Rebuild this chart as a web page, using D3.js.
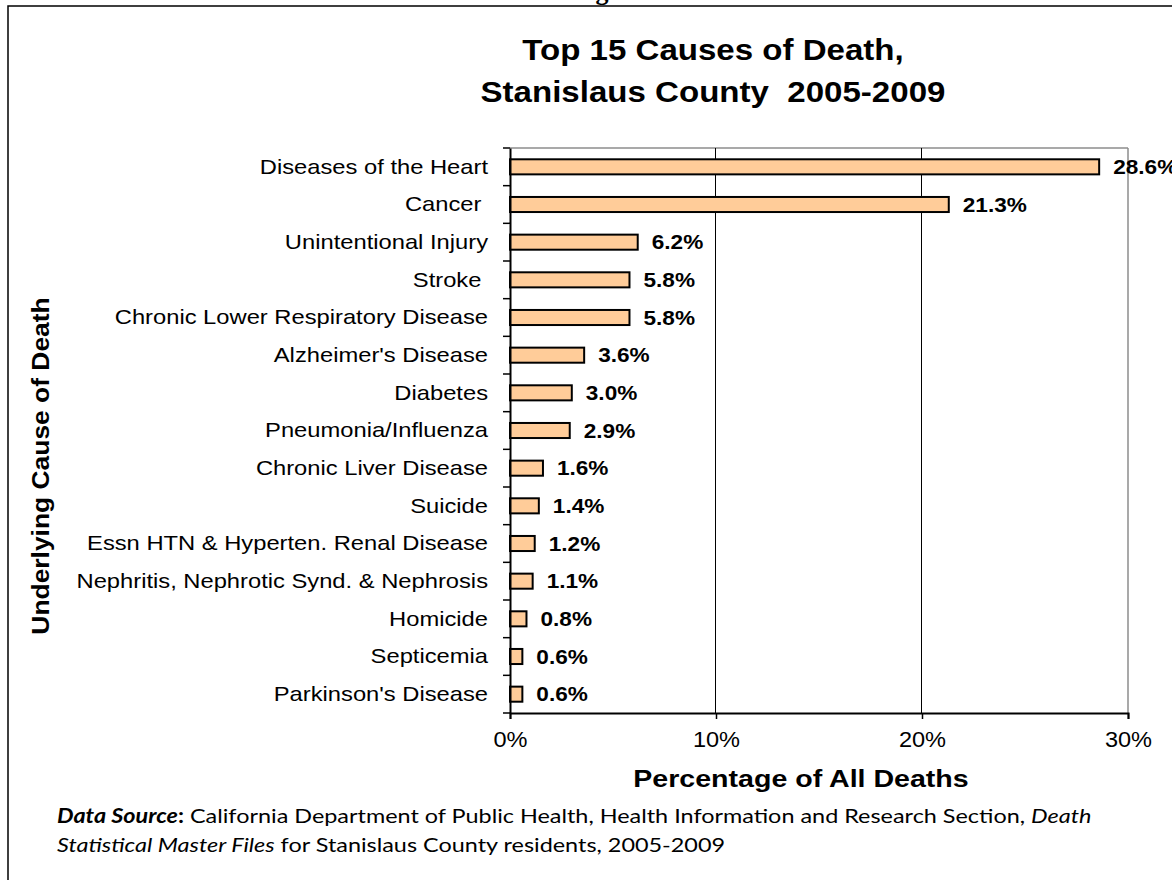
<!DOCTYPE html>
<html>
<head>
<meta charset="utf-8">
<script src="https://cdn.jsdelivr.net/npm/d3@7"></script>
<style>
  html, body { margin: 0; padding: 0; background: #fff; overflow: hidden; }
  svg { display: block; }
  text { white-space: pre; }
</style>
</head>
<body>
<svg id="chart" width="1172" height="880"></svg>
<script>
const categories = [
  "Diseases of the Heart",
  "Cancer ",
  "Unintentional Injury",
  "Stroke ",
  "Chronic Lower Respiratory Disease",
  "Alzheimer's Disease",
  "Diabetes",
  "Pneumonia/Influenza",
  "Chronic Liver Disease",
  "Suicide",
  "Essn HTN & Hyperten. Renal Disease",
  "Nephritis, Nephrotic Synd. & Nephrosis",
  "Homicide",
  "Septicemia",
  "Parkinson's Disease"
];
const values = [28.6, 21.3, 6.2, 5.8, 5.8, 3.6, 3.0, 2.9, 1.6, 1.4, 1.2, 1.1, 0.8, 0.6, 0.6];
const xTicks = [0, 10, 20, 30];
const titleLines = ["Top 15 Causes of Death,", "Stanislaus County  2005-2009"];
const xTitle = "Percentage of All Deaths";
const yTitle = "Underlying Cause of Death";

const svg = d3.select("#chart");
const plot = { left: 510, right: 1128, top: 148, bottom: 713 };
const SANS = "'Liberation Sans', Arial, sans-serif";

// horizontal stretch helper (reference text is rendered wider than normal)
function stretch(sel, k) {
  sel.each(function () {
    const w = this.getComputedTextLength();
    d3.select(this).attr("textLength", w * k).attr("lengthAdjust", "spacingAndGlyphs");
  });
}

// outer frame (extends beyond view on right and bottom)
svg.append("rect").attr("x", 8).attr("y", 6).attr("width", 1300).attr("height", 1000)
  .attr("fill", "none").attr("stroke", "#000").attr("stroke-width", 1.5);

// cut-off heading letter above frame (as in the reference)
svg.append("text").attr("x", 602).attr("y", 0).attr("text-anchor", "middle")
  .attr("font-family", "'Liberation Serif', serif").attr("font-weight", "bold").attr("font-size", 26)
  .text("g");

const x = d3.scaleLinear().domain([0, 30]).range([plot.left, plot.right]);
const y = d3.scaleBand().domain(categories).range([plot.top, plot.bottom]).paddingInner(0.6).paddingOuter(0.3);
const yb = d3.scaleBand().domain(categories).range([plot.top, plot.bottom]);

// plot area border (grey top & right)
svg.append("line").attr("x1", plot.left).attr("x2", plot.right).attr("y1", plot.top).attr("y2", plot.top)
  .attr("stroke", "#8c8c8c").attr("stroke-width", 1.5);
svg.append("line").attr("x1", plot.right).attr("x2", plot.right).attr("y1", plot.top).attr("y2", plot.bottom)
  .attr("stroke", "#8c8c8c").attr("stroke-width", 1.5);

// gridlines
svg.append("g").selectAll("line").data(xTicks.filter(t => t > 0 && t < 30)).join("line")
  .attr("x1", d => Math.round(x(d)) - 0.5).attr("x2", d => Math.round(x(d)) - 0.5)
  .attr("y1", plot.top).attr("y2", plot.bottom)
  .attr("stroke", "#000").attr("stroke-width", 1);

// bars
svg.append("g").selectAll("rect").data(values).join("rect")
  .attr("x", x(0))
  .attr("y", (d, i) => y(categories[i]))
  .attr("width", d => x(d) - x(0))
  .attr("height", y.bandwidth())
  .attr("fill", "#ffcc99").attr("stroke", "#000").attr("stroke-width", 2);

// value labels
const vl = svg.append("g").selectAll("text").data(values).join("text")
  .attr("x", d => x(d) + 14)
  .attr("y", (d, i) => y(categories[i]) + y.bandwidth() / 2)
  .attr("dy", "0.36em")
  .attr("font-family", SANS).attr("font-weight", "bold").attr("font-size", 20)
  .text(d => d.toFixed(1) + "%");
stretch(vl, 1.13);

// y axis
const yAxis = d3.axisLeft(yb).tickSize(0).tickPadding(22);
const ga = svg.append("g").attr("transform", `translate(${plot.left},0)`).call(yAxis);
ga.select(".domain").attr("stroke", "#000").attr("stroke-width", 2);
ga.selectAll(".tick text").attr("font-family", SANS).attr("font-size", 21).attr("fill", "#000");
stretch(ga.selectAll(".tick text"), 1.13);
// band boundary ticks
const bounds = categories.map(c => yb(c)).concat([plot.bottom]);
svg.append("g").selectAll("line").data(bounds).join("line")
  .attr("x1", plot.left - 7).attr("x2", plot.left).attr("y1", d => d).attr("y2", d => d)
  .attr("stroke", "#000").attr("stroke-width", 1.5);

// x axis
const xAxis = d3.axisBottom(x).tickValues(xTicks).tickFormat(d => d + "%").tickSize(6).tickPadding(12);
const gx = svg.append("g").attr("transform", `translate(0,${plot.bottom})`).call(xAxis);
gx.select(".domain").attr("stroke", "#000").attr("stroke-width", 2);
gx.selectAll(".tick line").attr("stroke", "#000").attr("stroke-width", 1.5);
gx.selectAll(".tick text").attr("font-family", SANS).attr("font-size", 22).attr("fill", "#000");
stretch(gx.selectAll(".tick text"), 1.07);

// titles
const tl = svg.append("g").selectAll("text").data(titleLines).join("text")
  .attr("x", 713).attr("y", (d, i) => 60 + i * 42).attr("text-anchor", "middle")
  .attr("font-family", SANS).attr("font-weight", "bold").attr("font-size", 29)
  .text(d => d);
stretch(tl, 1.14);

const xt = svg.append("text").attr("x", 801).attr("y", 787).attr("text-anchor", "middle")
  .attr("font-family", SANS).attr("font-weight", "bold").attr("font-size", 24)
  .text(xTitle);
stretch(xt, 1.19);

const yt = svg.append("text").attr("transform", "translate(49,466) rotate(-90)").attr("text-anchor", "middle")
  .attr("font-family", SANS).attr("font-weight", "bold").attr("font-size", 24)
  .text(yTitle);
stretch(yt, 1.1);

// footnote
const FN = "Lato, 'Open Sans', sans-serif";
const fn = svg.append("text").attr("x", 57).attr("y", 823)
  .attr("font-family", FN).attr("font-size", 20).attr("fill", "#000");
fn.append("tspan").attr("font-weight", "bold").attr("font-style", "italic").text("Data Source");
fn.append("tspan").attr("font-weight", "bold").text(":");
fn.append("tspan").text(" California Department of Public Health, Health Information and Research Section, ");
fn.append("tspan").attr("font-style", "italic").text("Death");
const fn2 = svg.append("text").attr("x", 57).attr("y", 852)
  .attr("font-family", FN).attr("font-size", 20).attr("fill", "#000");
fn2.append("tspan").attr("font-style", "italic").text("Statistical Master Files");
fn2.append("tspan").text(" for Stanislaus County residents, 2005-2009");
stretch(fn, 1.17);
stretch(fn2, 1.17);
</script>
</body>
</html>
